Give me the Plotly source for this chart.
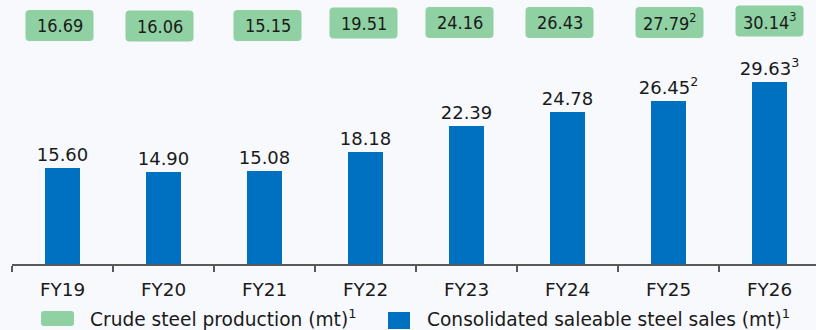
import plotly.graph_objects as go

# Fiscal years and volumes (million tonnes)
years = ["FY19", "FY20", "FY21", "FY22", "FY23", "FY24", "FY25", "FY26"]
sales = [15.60, 14.90, 15.08, 18.18, 22.39, 24.78, 26.45, 29.63]
sales_notes = ["", "", "", "", "", "", "2", "3"]
production = [16.69, 16.06, 15.15, 19.51, 24.16, 26.43, 27.79, 30.14]
production_notes = ["", "", "", "", "", "", "2", "3"]

legend_labels = ["Crude steel production (mt)", "Consolidated saleable steel sales (mt)"]
legend_notes = ["1", "1"]

# Styling
BG = "#f7f9fd"
BLUE = "#0070c0"
GREEN = "#8fd1a2"
TEXT = "#1a1a1a"
FONT = "DejaVu Sans"
FONT_NARROW = "DejaVu Sans Condensed, DejaVu Sans"

W, H = 816, 330
ML, MB = 12, 66
PLOT_H = H - MB
CAT_PX = 101.0
X_RANGE = [-0.5, -0.5 + (W - ML) / CAT_PX]
Y_TOP = 42.9

# Production badge geometry (pixels) and small per-badge nudges
BOX_W, BOX_H = 68, 31
BOX_DX = [-3, -4, 3, -2, -7, -8, 1, 0]
BOX_TOP = [10, 10.5, 10, 7.5, 7, 7, 7, 5.5]
RADIUS = 4


def sup(v, n):
    return f"{v:.2f}" + (f"<sup>{n}</sup>" if n else "")


fig = go.Figure()
fig.add_trace(go.Bar(
    x=list(range(len(years))),
    y=sales,
    width=0.35,
    marker=dict(color=BLUE, line=dict(width=0)),
    text=[sup(v, n) for v, n in zip(sales, sales_notes)],
    textposition="outside",
    constraintext="none",
    textfont=dict(family=FONT, size=18, color=TEXT),
    cliponaxis=False,
    hoverinfo="skip",
    showlegend=False,
))


def py_to_paper(py):
    return (PLOT_H - py) / PLOT_H


def px_to_x(px):
    return X_RANGE[0] + (px - ML) / CAT_PX


def rounded_rect(x0, y0, x1, y1, r):
    # pixel coords (y downward) -> path in x data / paper units
    rx = r / CAT_PX
    ry = r / PLOT_H
    X0, X1 = px_to_x(x0), px_to_x(x1)
    Yt, Yb = py_to_paper(y0), py_to_paper(y1)
    return (f"M{X0+rx},{Yb} L{X1-rx},{Yb} Q{X1},{Yb} {X1},{Yb+ry} "
            f"L{X1},{Yt-ry} Q{X1},{Yt} {X1-rx},{Yt} L{X0+rx},{Yt} "
            f"Q{X0},{Yt} {X0},{Yt-ry} L{X0},{Yb+ry} Q{X0},{Yb} {X0+rx},{Yb} Z")


shapes = []
annotations = []
for i, (v, n) in enumerate(zip(production, production_notes)):
    cx = ML + (i + 0.5) * CAT_PX + BOX_DX[i]
    top = BOX_TOP[i]
    shapes.append(dict(
        type="path", xref="x", yref="paper",
        path=rounded_rect(cx - BOX_W / 2, top, cx + BOX_W / 2, top + BOX_H, RADIUS),
        fillcolor=GREEN, line=dict(width=0), layer="above",
    ))
    annotations.append(dict(
        x=px_to_x(cx), y=py_to_paper(top + BOX_H / 2), xref="x", yref="paper",
        text=sup(v, n), showarrow=False, xanchor="center", yanchor="middle",
        font=dict(family=FONT_NARROW, size=18, color=TEXT),
    ))

# Legend drawn as swatches plus labels below the axis
legend_items = [
    dict(box=(41, 311, 74, 326), color=GREEN, r=3, tx=88),
    dict(box=(388, 312, 410, 329), color=BLUE, r=0, tx=425),
]
for item, label, note in zip(legend_items, legend_labels, legend_notes):
    x0, y0, x1, y1 = item["box"]
    if item["r"]:
        shapes.append(dict(type="path", xref="x", yref="paper",
                           path=rounded_rect(x0, y0, x1, y1, item["r"]),
                           fillcolor=item["color"], line=dict(width=0)))
    else:
        shapes.append(dict(type="rect", xref="x", yref="paper",
                           x0=px_to_x(x0), x1=px_to_x(x1),
                           y0=py_to_paper(y1), y1=py_to_paper(y0),
                           fillcolor=item["color"], line=dict(width=0)))
    annotations.append(dict(
        x=px_to_x(item["tx"]), y=py_to_paper(318), xref="x", yref="paper",
        text=f"{label}<sup>{note}</sup>", showarrow=False,
        xanchor="left", yanchor="middle",
        font=dict(family=FONT, size=18.6, color=TEXT),
    ))

fig.update_layout(
    width=W, height=H,
    margin=dict(l=ML, r=0, t=0, b=MB),
    paper_bgcolor=BG, plot_bgcolor=BG,
    shapes=shapes, annotations=annotations,
    bargap=0,
    xaxis=dict(
        range=X_RANGE, tickmode="array",
        tickvals=list(range(len(years))), ticktext=years,
        ticks="outside", ticklen=8, tickcolor="rgba(0,0,0,0)",
        tickfont=dict(family=FONT, size=18.4, color=TEXT),
        showline=True, linecolor="#595959", linewidth=1.5,
        showgrid=False, zeroline=False,
        minor=dict(tickmode="linear", tick0=-0.5, dtick=1, ticks="outside",
                   ticklen=6, tickcolor="#595959", tickwidth=1.5, showgrid=False),
        fixedrange=True,
    ),
    yaxis=dict(range=[0, Y_TOP], visible=False, fixedrange=True),
    font=dict(family=FONT),
)

fig.write_html("out.html")
